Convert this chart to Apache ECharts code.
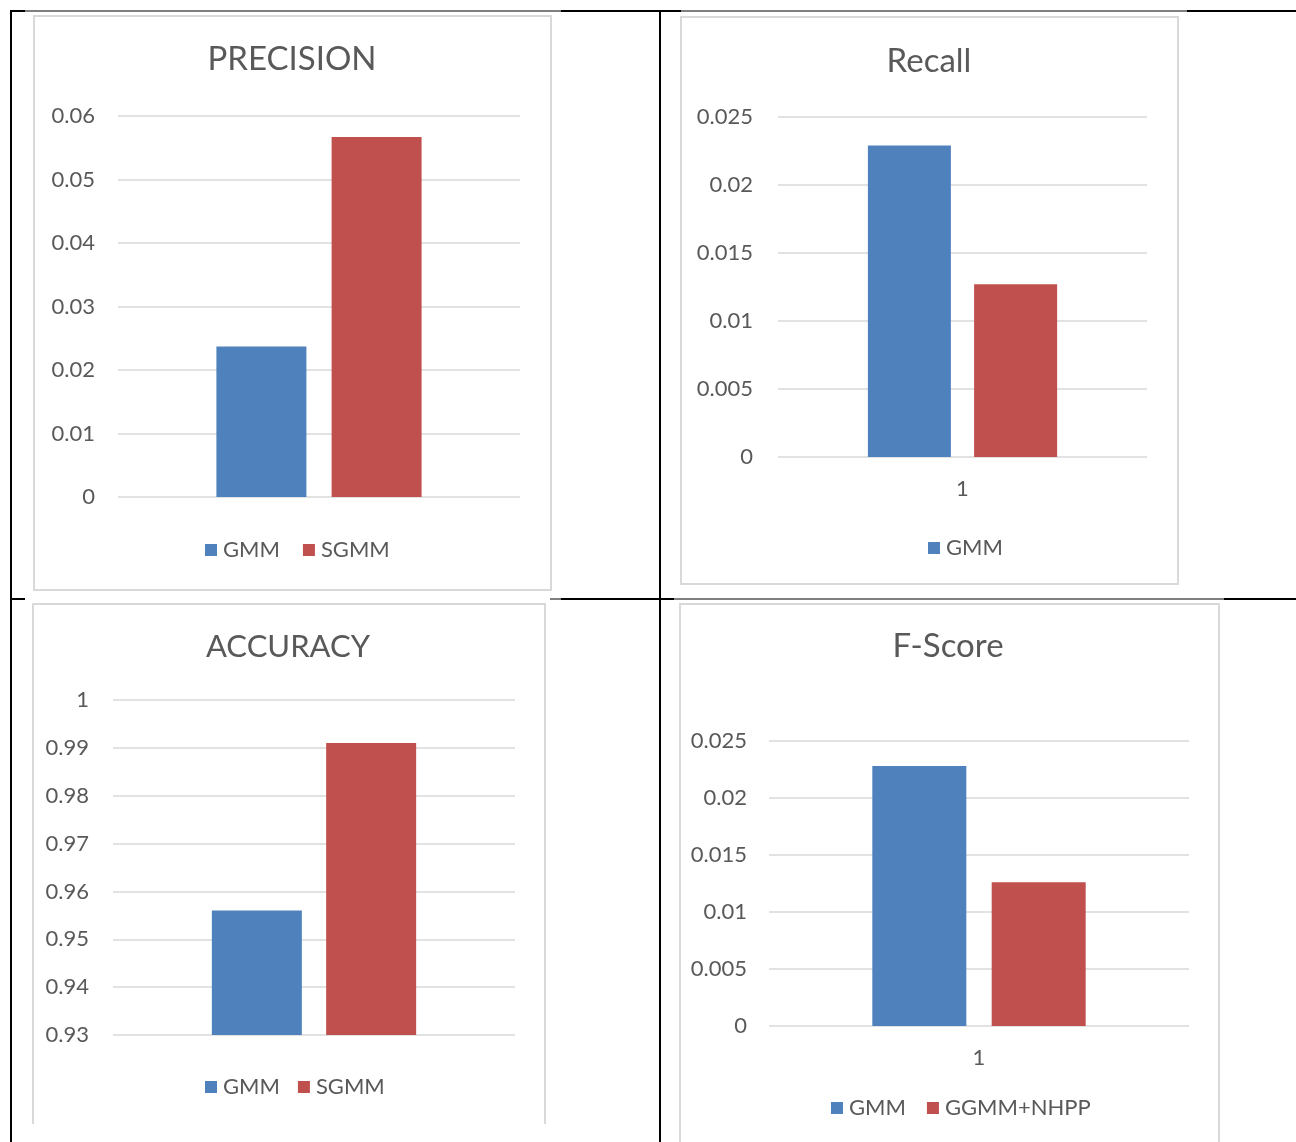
<!DOCTYPE html>
<html>
<head>
<meta charset="utf-8">
<script src="https://cdn.jsdelivr.net/npm/echarts@6/dist/echarts.min.js"></script>
<style>
  html, body { margin: 0; padding: 0; background: #ffffff; }
  #main { width: 1296px; height: 1142px; }
</style>
</head>
<body>
<div id="main"></div>
<script>
// ---- data ----
const categories = ['1'];

const precisionTitle = 'PRECISION';
const precisionGMM = [0.0237];
const precisionSGMM = [0.0567];

const recallTitle = 'Recall';
const recallGMM = [0.0229];
const recallSeries2 = [0.0127];

const accuracyTitle = 'ACCURACY';
const accuracyGMM = [0.956];
const accuracySGMM = [0.991];

const fscoreTitle = 'F-Score';
const fscoreGMM = [0.0228];
const fscoreNHPP = [0.0126];

// ---- style ----
const FONT = 'Lato';
const TXT = '#595959';
const GRIDC = '#d9d9d9';
const BLUE = '#4f81bd';
const RED = '#c0504d';

const chart = echarts.init(document.getElementById('main'), null, { renderer: 'canvas' });

function yAxis(idx, min, max, interval, margin) {
  return {
    type: 'value', gridIndex: idx, min: min, max: max, interval: interval,
    axisLine: { show: false }, axisTick: { show: false },
    axisLabel: { color: TXT, fontFamily: FONT, fontSize: 22, margin: margin },
    splitLine: { lineStyle: { color: GRIDC, width: 1.5 } }
  };
}
function xAxis(idx, showLabel, margin) {
  return {
    type: 'category', gridIndex: idx, data: categories,
    axisLine: { show: false }, axisTick: { show: false },
    axisLabel: { show: showLabel, color: TXT, fontFamily: FONT, fontSize: 22, margin: margin }
  };
}
function bar(name, data, idx, color, width, gap) {
  return {
    type: 'bar', name: name, data: data, xAxisIndex: idx, yAxisIndex: idx,
    barWidth: width, barGap: gap, itemStyle: { color: color },
    emphasis: { disabled: true }
  };
}
function title(text, x, y, size) {
  return {
    text: text, left: x, top: y, textAlign: 'center', padding: 0,
    textStyle: { color: TXT, fontFamily: FONT, fontSize: size, fontWeight: 'normal' }
  };
}
function legend(names, x, y, gap) {
  return {
    data: names, left: x, top: y, itemGap: gap, itemWidth: 12, itemHeight: 12,
    icon: 'rect', selectedMode: false, padding: 0,
    textStyle: { color: TXT, fontFamily: FONT, fontSize: 22, padding: [0, 0, 0, 1] }
  };
}
function line(x1, y1, x2, y2, w, c) {
  return { type: 'line', shape: { x1: x1, y1: y1, x2: x2, y2: y2 }, style: { stroke: c, lineWidth: w }, silent: true };
}

const option = {
  backgroundColor: '#ffffff',
  animation: false,
  title: [
    title(precisionTitle, 292, 43, 33),
    title(recallTitle, 929, 45, 33),
    title(accuracyTitle, 288, 631, 31),
    title(fscoreTitle, 948, 630, 33)
  ],
  legend: [
    legend(['GMM', 'SGMM'], 205, 539, 23),
    legend(['GMM'], 928, 537, 23),
    legend(['GMM', 'SGMM'], 205, 1076, 18),
    legend(['GMM', 'GGMM+NHPP'], 831, 1097, 21)
  ],
  grid: [
    { left: 118, right: 1296 - 520, top: 116, bottom: 1142 - 497 },
    { left: 778, right: 1296 - 1147, top: 117, bottom: 1142 - 457 },
    { left: 113, right: 1296 - 515, top: 700, bottom: 1142 - 1035 },
    { left: 769, right: 1296 - 1189, top: 741, bottom: 1142 - 1026 }
  ],
  xAxis: [
    xAxis(0, false, 20),
    xAxis(1, true, 21),
    xAxis(2, false, 20),
    xAxis(3, true, 21)
  ],
  yAxis: [
    yAxis(0, 0, 0.06, 0.01, 23),
    yAxis(1, 0, 0.025, 0.005, 25),
    yAxis(2, 0.93, 1, 0.01, 24),
    yAxis(3, 0, 0.025, 0.005, 22)
  ],
  series: [
    bar('GMM', precisionGMM, 0, BLUE, 90, '28%'),
    bar('SGMM', precisionSGMM, 0, RED, 90, '28%'),
    bar('GMM', recallGMM, 1, BLUE, 83, '28%'),
    bar('Series2', recallSeries2, 1, RED, 83, '28%'),
    bar('GMM', accuracyGMM, 2, BLUE, 90, '27%'),
    bar('SGMM', accuracySGMM, 2, RED, 90, '27%'),
    bar('GMM', fscoreGMM, 3, BLUE, 94, '27%'),
    bar('GGMM+NHPP', fscoreNHPP, 3, RED, 94, '27%')
  ],
  graphic: [
    // chart frames
    { type: 'rect', shape: { x: 34, y: 16, width: 517, height: 574 }, style: { fill: null, stroke: GRIDC, lineWidth: 2 }, silent: true, z: -1 },
    { type: 'rect', shape: { x: 681, y: 17, width: 497, height: 567 }, style: { fill: null, stroke: GRIDC, lineWidth: 2 }, silent: true, z: -1 },
    { type: 'polyline', shape: { points: [[33, 1124], [33, 604], [545, 604], [545, 1124]] }, style: { fill: null, stroke: GRIDC, lineWidth: 2 }, silent: true, z: -1 },
    { type: 'polyline', shape: { points: [[680, 1142], [680, 604], [1219, 604], [1219, 1142]] }, style: { fill: null, stroke: GRIDC, lineWidth: 2 }, silent: true, z: -1 },
    // table lines
    line(10, 11, 25, 11, 2, '#000'),
    line(25, 11, 561, 11, 1, '#000'),
    line(561, 11, 681, 11, 2, '#000'),
    line(681, 11, 1187, 11, 1, '#000'),
    line(1187, 11, 1296, 11, 2, '#000'),
    line(11, 10, 11, 1142, 2, '#000'),
    line(660, 10, 660, 1142, 2, '#000'),
    line(11, 599, 25, 599, 2, '#000'),
    line(550, 599, 561, 599, 1, '#000'),
    line(561, 599, 674, 599, 2, '#000'),
    line(674, 599, 1224, 599, 1, '#000'),
    line(1224, 599, 1296, 599, 2, '#000')
  ]
};
chart.setOption(option);
</script>
</body>
</html>
